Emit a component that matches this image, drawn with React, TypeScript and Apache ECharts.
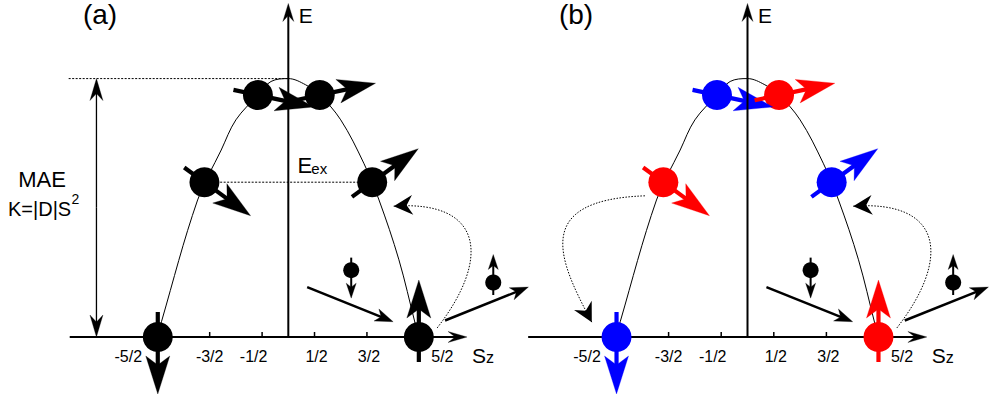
import React, { useEffect, useRef } from "react";
import * as echarts from "echarts";

const FONT = "'Liberation Sans', Arial, Helvetica, sans-serif";

// ---------------- data ----------------
// Sz states (tick labels) and their tick positions
const spinLabels = ["-5/2", "-3/2", "-1/2", "1/2", "3/2", "5/2"];
const tickSz = [-2.5, -1.5, -0.5, 0.5, 1.5, 2.5];
// drawn positions of the spin states (Sz, E in units of |D|)
const stateSz = [-2.49, -1.6, -0.58, 0.6, 1.6, 2.49];
const stateEnergy = [0, 3.75, 5.86, 5.86, 3.75, 0];
// spin direction of each state, degrees (screen, clockwise from +Sz)
const spinAngle = [90, 36, 12, -12, -36, -90];
const stateColorsA = ["#000000", "#000000", "#000000", "#000000", "#000000", "#000000"];
const stateColorsB = ["#0000ff", "#ff0000", "#0000ff", "#ff0000", "#0000ff", "#ff0000"];

// anisotropy barrier curve
const curveSz = [-2.49, -2.42, -1.73, -1.28, -1.0, -0.58, -0.33, 0, 0.33, 0.6, 1.0, 1.44, 1.73, 2.11, 2.42, 2.49];
const curveEnergy = [0, 0.37, 3.32, 4.53, 5.26, 5.86, 6.19, 6.26, 6.11, 5.86, 5.26, 4.21, 3.32, 1.87, 0.33, 0];

// reference levels (panel a)
const barrierEnergy = 6.26;
const exchangeEnergy = 3.75;
const maeArrowSz = -3.66;
const barrierLineSz = [-4.19, 0];
const exchangeLineSz = [-1.3, 1.32];

// axes extent
const axisSzRange = [-4.17, 3.41];
const axisETop = 8.08;

// scattering arrows [fromSz, fromE, toSz, toE]
const straightArrows = [
  [0.36, 1.21, 2.0, 0.37],
  [2.99, 0.4, 4.58, 1.21],
];
// conduction electron spins [Sz, E, direction (+1 up, -1 down)]
const electronSpins = [
  [1.2, 1.62, -1],
  [3.91, 1.32, 1],
];
// dotted transitions: bezier [start, control1, control2, end] in (Sz, E)
const hopsA = [[2.84, 0.22, 3.85, 1.87, 3.75, 3.32, 2.01, 3.17]];
const hopsB = [
  [-1.95, 3.42, -4.14, 3.32, -3.57, 1.82, -2.96, 0.36],
  [2.84, 0.22, 3.85, 1.87, 3.75, 3.32, 2.01, 3.17],
];

// ---------------- layout ----------------
const PX_SZ = 52.6;
const PX_E = 41.28;
const SZ_MIN = -5.5;
const SZ_MAX = 4.5;
const E_MIN = -1.4;
const E_MAX = 8.15;
const ORIGIN_X = [287.5, 747.5];
const ORIGIN_Y = 337;
const tickLabelDx = [-29, 0, -8.5, 2, 2, 23];

type P = number[];

function headPts(tip: P, ux: number, uy: number, L: number, W: number, N: number) {
  const nx = -uy;
  const ny = ux;
  const bx = tip[0] - L * ux;
  const by = tip[1] - L * uy;
  return [
    [tip[0], tip[1]],
    [bx + W * nx, by + W * ny],
    [tip[0] - (L - N) * ux, tip[1] - (L - N) * uy],
    [bx - W * nx, by - W * ny],
  ];
}

function arrowEls(a: P, b: P, color: string, lw: number, L: number, W: number, N: number) {
  const dx = b[0] - a[0];
  const dy = b[1] - a[1];
  const len = Math.hypot(dx, dy) || 1;
  const ux = dx / len;
  const uy = dy / len;
  const back = L - N - 2;
  return [
    {
      type: "line",
      shape: { x1: a[0], y1: a[1], x2: b[0] - back * ux, y2: b[1] - back * uy },
      style: { stroke: color, lineWidth: lw, lineCap: "butt" },
    },
    {
      type: "polygon",
      shape: { points: headPts(b, ux, uy, L, W, N) },
      style: { fill: color, stroke: color, lineWidth: 0.3 },
    },
  ];
}

function txt(text: string, x: number, y: number, size: number, align = "left", color = "#000") {
  return {
    type: "text",
    style: {
      text,
      x,
      y,
      font: `${size}px ${FONT}`,
      fill: color,
      align,
      textAlign: align,
      verticalAlign: "middle",
      textVerticalAlign: "middle",
    },
  };
}

function panelSeries(p: number) {
  const ax = { xAxisIndex: p, yAxisIndex: p };
  const colors = p === 0 ? stateColorsA : stateColorsB;
  const hops = p === 0 ? hopsA : hopsB;
  const list: any[] = [];

  // Sz axis
  list.push({
    type: "custom",
    ...ax,
    z: 1,
    silent: true,
    data: [[axisSzRange[0], 0, axisSzRange[1]]],
    renderItem: (_params: any, api: any) => {
      const a = api.coord([api.value(0), api.value(1)]);
      const b = api.coord([api.value(2), api.value(1)]);
      return {
        type: "group",
        children: [
          ...arrowEls(a, b, "#000", 2, 19, 5.5, 7),
          txt("S", b[0] + 5, b[1] + 18.5, 21),
          txt("z", b[0] + 19, b[1] + 20.5, 16),
        ],
      };
    },
  });

  // ticks + tick labels
  list.push({
    type: "custom",
    ...ax,
    z: 1,
    silent: true,
    data: tickSz.map((s, i) => [s, 0, i]),
    renderItem: (_params: any, api: any) => {
      const c = api.coord([api.value(0), api.value(1)]);
      const i = api.value(2);
      return {
        type: "group",
        children: [
          {
            type: "line",
            shape: { x1: c[0], y1: c[1], x2: c[0], y2: c[1] - 5 },
            style: { stroke: "#000", lineWidth: 1.5 },
          },
          txt(spinLabels[i], c[0] + tickLabelDx[i], c[1] + 19, 16, "center"),
        ],
      };
    },
  });

  // barrier curve
  list.push({
    type: "line",
    ...ax,
    z: 2,
    silent: true,
    smooth: 0.35,
    symbol: "none",
    data: curveSz.map((s, i) => [s, curveEnergy[i]]),
    lineStyle: { color: "#000", width: 1 },
  });

  // reference lines (panel a)
  if (p === 0) {
    list.push({
      type: "custom",
      ...ax,
      z: 2,
      silent: true,
      data: [[maeArrowSz, barrierEnergy, exchangeEnergy]],
      renderItem: (_params: any, api: any) => {
        const bottom = api.coord([api.value(0), 0]);
        const top = api.coord([api.value(0), api.value(1)]);
        const mid = [bottom[0], (bottom[1] + top[1]) / 2];
        const b0 = api.coord([barrierLineSz[0], api.value(1)]);
        const b1 = api.coord([barrierLineSz[1], api.value(1)]);
        const e0 = api.coord([exchangeLineSz[0], api.value(2)]);
        const e1 = api.coord([exchangeLineSz[1], api.value(2)]);
        const axisX = api.coord([0, 0])[0];
        return {
          type: "group",
          children: [
            ...arrowEls(mid, top, "#000", 1.3, 22, 6.5, 7),
            ...arrowEls(mid, bottom, "#000", 1.3, 22, 6.5, 7),
            {
              type: "line",
              shape: { x1: b0[0], y1: b0[1], x2: b1[0], y2: b1[1] },
              style: { stroke: "#000", lineWidth: 1, lineDash: [2, 1.5] },
            },
            {
              type: "line",
              shape: { x1: e0[0], y1: e0[1], x2: e1[0], y2: e1[1] },
              style: { stroke: "#000", lineWidth: 1, lineDash: [2, 1.5] },
            },
            txt("E", axisX + 9.2, e0[1] - 16.6, 22),
            txt("ex", axisX + 23, e0[1] - 14.2, 15),
          ],
        };
      },
    });
  }

  // dotted transitions
  list.push({
    type: "custom",
    ...ax,
    z: 2,
    silent: true,
    data: hops,
    renderItem: (_params: any, api: any) => {
      const s = api.coord([api.value(0), api.value(1)]);
      const c1 = api.coord([api.value(2), api.value(3)]);
      const c2 = api.coord([api.value(4), api.value(5)]);
      const e = api.coord([api.value(6), api.value(7)]);
      const dx = e[0] - c2[0];
      const dy = e[1] - c2[1];
      const l = Math.hypot(dx, dy) || 1;
      return {
        type: "group",
        children: [
          {
            type: "bezierCurve",
            shape: { x1: s[0], y1: s[1], cpx1: c1[0], cpy1: c1[1], cpx2: c2[0], cpy2: c2[1], x2: e[0], y2: e[1] },
            style: { stroke: "#000", lineWidth: 1, lineDash: [1.5, 1.5], fill: null },
          },
          {
            type: "polygon",
            shape: { points: headPts(e, dx / l, dy / l, 19, 10, 6) },
            style: { fill: "#000" },
          },
        ],
      };
    },
  });

  // state circles
  list.push({
    type: "custom",
    ...ax,
    z: 3,
    silent: true,
    data: stateSz.map((s, i) => [s, stateEnergy[i], i]),
    renderItem: (_params: any, api: any) => {
      const c = api.coord([api.value(0), api.value(1)]);
      const i = api.value(2);
      return { type: "circle", shape: { cx: c[0], cy: c[1], r: 15 }, style: { fill: colors[i] } };
    },
  });

  // scattering arrows
  list.push({
    type: "custom",
    ...ax,
    z: 3,
    silent: true,
    data: straightArrows,
    renderItem: (_params: any, api: any) => {
      const a = api.coord([api.value(0), api.value(1)]);
      const b = api.coord([api.value(2), api.value(3)]);
      return { type: "group", children: arrowEls(a, b, "#000", 2.5, 18, 6.5, 5) };
    },
  });

  // conduction electron spins
  list.push({
    type: "custom",
    ...ax,
    z: 3,
    silent: true,
    data: electronSpins,
    renderItem: (_params: any, api: any) => {
      const c = api.coord([api.value(0), api.value(1)]);
      const d = api.value(2);
      const tail = [c[0], c[1] + 12.5 * d];
      const tip = [c[0], c[1] - 28 * d];
      return {
        type: "group",
        children: [
          { type: "circle", shape: { cx: c[0], cy: c[1], r: 8 }, style: { fill: "#000" } },
          ...arrowEls(tail, tip, "#000", 2, 15, 5, 4),
        ],
      };
    },
  });

  // spin arrows of the states
  list.push({
    type: "custom",
    ...ax,
    z: 4,
    silent: true,
    data: stateSz.map((s, i) => [s, stateEnergy[i], spinAngle[i], i]),
    renderItem: (_params: any, api: any) => {
      const c = api.coord([api.value(0), api.value(1)]);
      const ang = (api.value(2) * Math.PI) / 180;
      const i = api.value(3);
      const ux = Math.cos(ang);
      const uy = Math.sin(ang);
      const tail = [c[0] - 25 * ux, c[1] - 25 * uy];
      const tip = [c[0] + 57 * ux, c[1] + 57 * uy];
      return { type: "group", children: arrowEls(tail, tip, colors[i], 4.2, 38, 12, 9) };
    },
  });

  // E axis
  list.push({
    type: "custom",
    ...ax,
    z: 5,
    silent: true,
    data: [[0, 0, axisETop]],
    renderItem: (_params: any, api: any) => {
      const a = api.coord([api.value(0), api.value(1)]);
      const b = api.coord([api.value(0), api.value(2)]);
      return {
        type: "group",
        children: [...arrowEls(a, b, "#000", 2, 18, 5.5, 6), txt("E", b[0] + 10.5, b[1] + 12.4, 21)],
      };
    },
  });

  return list;
}

function buildOption() {
  const grids = ORIGIN_X.map((ox) => ({
    left: ox + SZ_MIN * PX_SZ,
    top: ORIGIN_Y - E_MAX * PX_E,
    width: (SZ_MAX - SZ_MIN) * PX_SZ,
    height: (E_MAX - E_MIN) * PX_E,
    containLabel: false,
  }));
  return {
    animation: false,
    backgroundColor: "#ffffff",
    tooltip: { show: false },
    grid: grids,
    xAxis: [0, 1].map((g) => ({ type: "value", gridIndex: g, min: SZ_MIN, max: SZ_MAX, show: false })),
    yAxis: [0, 1].map((g) => ({ type: "value", gridIndex: g, min: E_MIN, max: E_MAX, show: false })),
    graphic: [
      txt("(a)", 100, 14.5, 28, "center"),
      txt("(b)", 576, 14.5, 28, "center"),
      txt("MAE", 42, 179, 22, "center"),
      txt("K=|D|S", 8, 209, 20),
      txt("2", 71.5, 199, 14),
    ],
    series: [...panelSeries(0), ...panelSeries(1)],
  };
}

export default function App() {
  const ref = useRef<HTMLDivElement>(null);
  useEffect(() => {
    document.body.style.margin = "0";
    document.body.style.overflow = "hidden";
    if (!ref.current) return;
    const chart = echarts.init(ref.current, null, { renderer: "svg" });
    chart.setOption(buildOption() as any);
    return () => chart.dispose();
  }, []);
  return (
    <div style={{ position: "fixed", left: 0, top: 0, width: 993, height: 397, background: "#fff" }}>
      <div ref={ref} style={{ width: 993, height: 397 }} />
    </div>
  );
}
